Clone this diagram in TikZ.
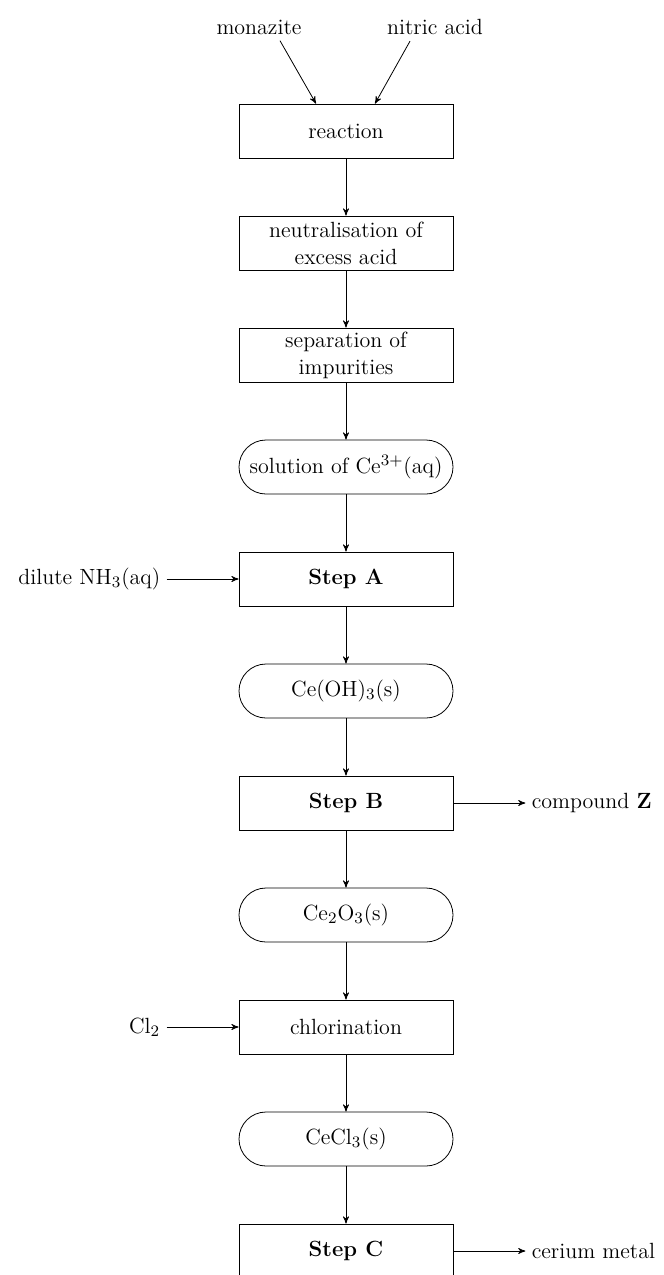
\documentclass[tikz,border=0pt]{standalone}
\usepackage{xcolor}
\usepackage{tikz}
\usetikzlibrary{positioning, arrows}
\tikzset{->,
         >=stealth',
         node distance=56pt,
         line width=0.7pt,
         every node/.style={font=\fontsize{11}{13.5}\selectfont},
         process/.style={draw, fill=white, align=center, minimum width=107pt, minimum height=27pt, inner sep=1pt},
         product/.style={process, rounded corners=13.5pt},
         feed/.style={inner sep=3pt},
         }

\begin{document}
\begin{tikzpicture}
    \useasboundingbox (0,0) rectangle (332pt,-637.5pt);

    \node[process] (react) at (173pt,-65.5pt) {reaction};
    \node[process, below of=react] (neut) {neutralisation of\\excess acid};
    \node[process, below of=neut] (sep) {separation of\\impurities};
    \node[product, below of=sep] (soln) {solution of Ce$^{3+}$(aq)};
    \node[process, below of=soln] (stepA) {\textbf{Step A}};
    \node[product, below of=stepA] (hydrox) {Ce(OH)$_3$(s)};
    \node[process, below of=hydrox] (stepB) {\textbf{Step B}};
    \node[product, below of=stepB] (oxide) {Ce$_2$O$_3$(s)};
    \node[process, below of=oxide] (chlor) {chlorination};
    \node[product, below of=chlor] (chlorid) {CeCl$_3$(s)};
    \node[process, below of=chlorid] (stepC) {\textbf{Step C}};

    % feeds and outputs
    \node[feed] (monaz) at (129.5pt,-13.5pt) {monazite};
    \node[feed] (nitric) at (217.5pt,-13.5pt) {nitric acid};
    \node[feed, left=36pt of stepA] (ammonia) {dilute NH$_3$(aq)};
    \node[feed, right=36pt of stepB] (cmpZ) {compound \textbf{Z}};
    \node[feed, left=36pt of chlor] (chlorine) {Cl$_2$};
    \node[feed, right=36pt of stepC] (cerium) {cerium metal};

    \draw ([xshift=10.5pt]monaz.south) -- ([xshift=-15pt]react.north);
    \draw ([xshift=-12.5pt]nitric.south) -- ([xshift=14.5pt]react.north);
    \draw   (react) edge (neut)
            (neut) edge (sep)
            (sep) edge (soln)
            (soln) edge (stepA)
            (stepA) edge (hydrox)
            (hydrox) edge (stepB)
            (stepB) edge (oxide)
            (oxide) edge (chlor)
            (chlor) edge (chlorid)
            (chlorid) edge (stepC)
            (ammonia) edge (stepA)
            (chlorine) edge (chlor)
            (stepB) edge (cmpZ)
            (stepC) edge (cerium);
\end{tikzpicture}
\end{document}
